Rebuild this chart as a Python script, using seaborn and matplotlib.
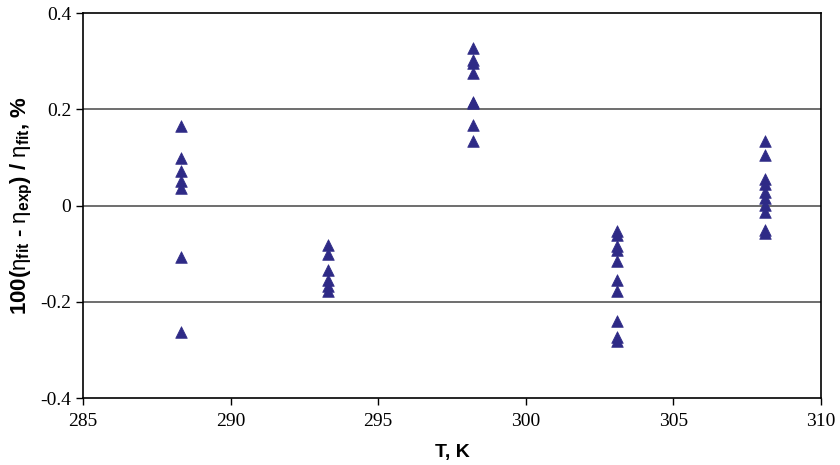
import seaborn as sns
import matplotlib.pyplot as plt
import pandas as pd

# temperatures of each measurement series (K)
temps = [288.3, 293.3, 298.2, 303.1, 308.1]

# relative deviations 100(eta_fit - eta_exp)/eta_fit, % per temperature
dev_288 = [0.165, 0.098, 0.072, 0.050, 0.036, -0.107, -0.262]
dev_293 = [-0.082, -0.100, -0.134, -0.155, -0.167, -0.178]
dev_298 = [0.328, 0.302, 0.296, 0.275, 0.216, 0.212, 0.168, 0.134]
dev_303 = [-0.052, -0.062, -0.085, -0.092, -0.115, -0.155, -0.178, -0.240, -0.274, -0.281]
dev_308 = [0.135, 0.104, 0.056, 0.044, 0.028, 0.016, 0.002, -0.014, -0.051, -0.057]

yticks = [-0.4, -0.2, 0, 0.2, 0.4]
ytick_labels = ['-0.4', '-0.2', '0', '0.2', '0.4']
xticks = [285, 290, 295, 300, 305, 310]

all_devs = [dev_288, dev_293, dev_298, dev_303, dev_308]
df = pd.DataFrame({
    'T': [t for t, d in zip(temps, all_devs) for _ in d],
    'dev': [v for d in all_devs for v in d],
})

sns.set_style('white')
plt.rcParams['mathtext.fontset'] = 'custom'
plt.rcParams['mathtext.rm'] = 'Liberation Sans:bold'
plt.rcParams['mathtext.it'] = 'Liberation Sans'
plt.rcParams['mathtext.bf'] = 'Liberation Sans:bold'
plt.rcParams['text.color'] = 'black'
plt.rcParams['axes.labelcolor'] = 'black'
plt.rcParams['xtick.color'] = 'black'
plt.rcParams['ytick.color'] = 'black'

fig, ax = plt.subplots(figsize=(8.4, 4.65), dpi=100)
fig.subplots_adjust(left=0.099, right=0.977, top=0.972, bottom=0.144)

sns.scatterplot(data=df, x='T', y='dev', marker='^', color='#2E2A86',
                s=70, edgecolor='#2E2A86', linewidth=0.5, ax=ax, zorder=3)

ax.set_xlim(285, 310)
ax.set_ylim(-0.4, 0.4)
ax.set_xticks(xticks)
ax.set_yticks(yticks)
ax.set_yticklabels(ytick_labels)
for lab in ax.get_xticklabels() + ax.get_yticklabels():
    lab.set_fontfamily('Liberation Serif')
    lab.set_fontsize(14)
ax.tick_params(axis='both', direction='out', length=5, width=1, color='black',
               bottom=True, left=True)
ax.tick_params(axis='x', pad=6)

for y in [-0.2, 0, 0.2]:
    ax.axhline(y, color='#555555', linewidth=1.2, zorder=1)

for sp in ax.spines.values():
    sp.set_color('black')
    sp.set_linewidth(1.2)

ax.set_xlabel('T, K', fontfamily='Liberation Sans', fontweight='bold', fontsize=14, labelpad=10)
ax.set_ylabel(r'100($\eta_{\mathbf{fit}}$ - $\eta_{\mathbf{exp}}$) / $\eta_{\mathbf{fit}}$, %',
              fontfamily='Liberation Sans', fontweight='bold', fontsize=16, labelpad=4)

fig.savefig('out.png', dpi=100)
